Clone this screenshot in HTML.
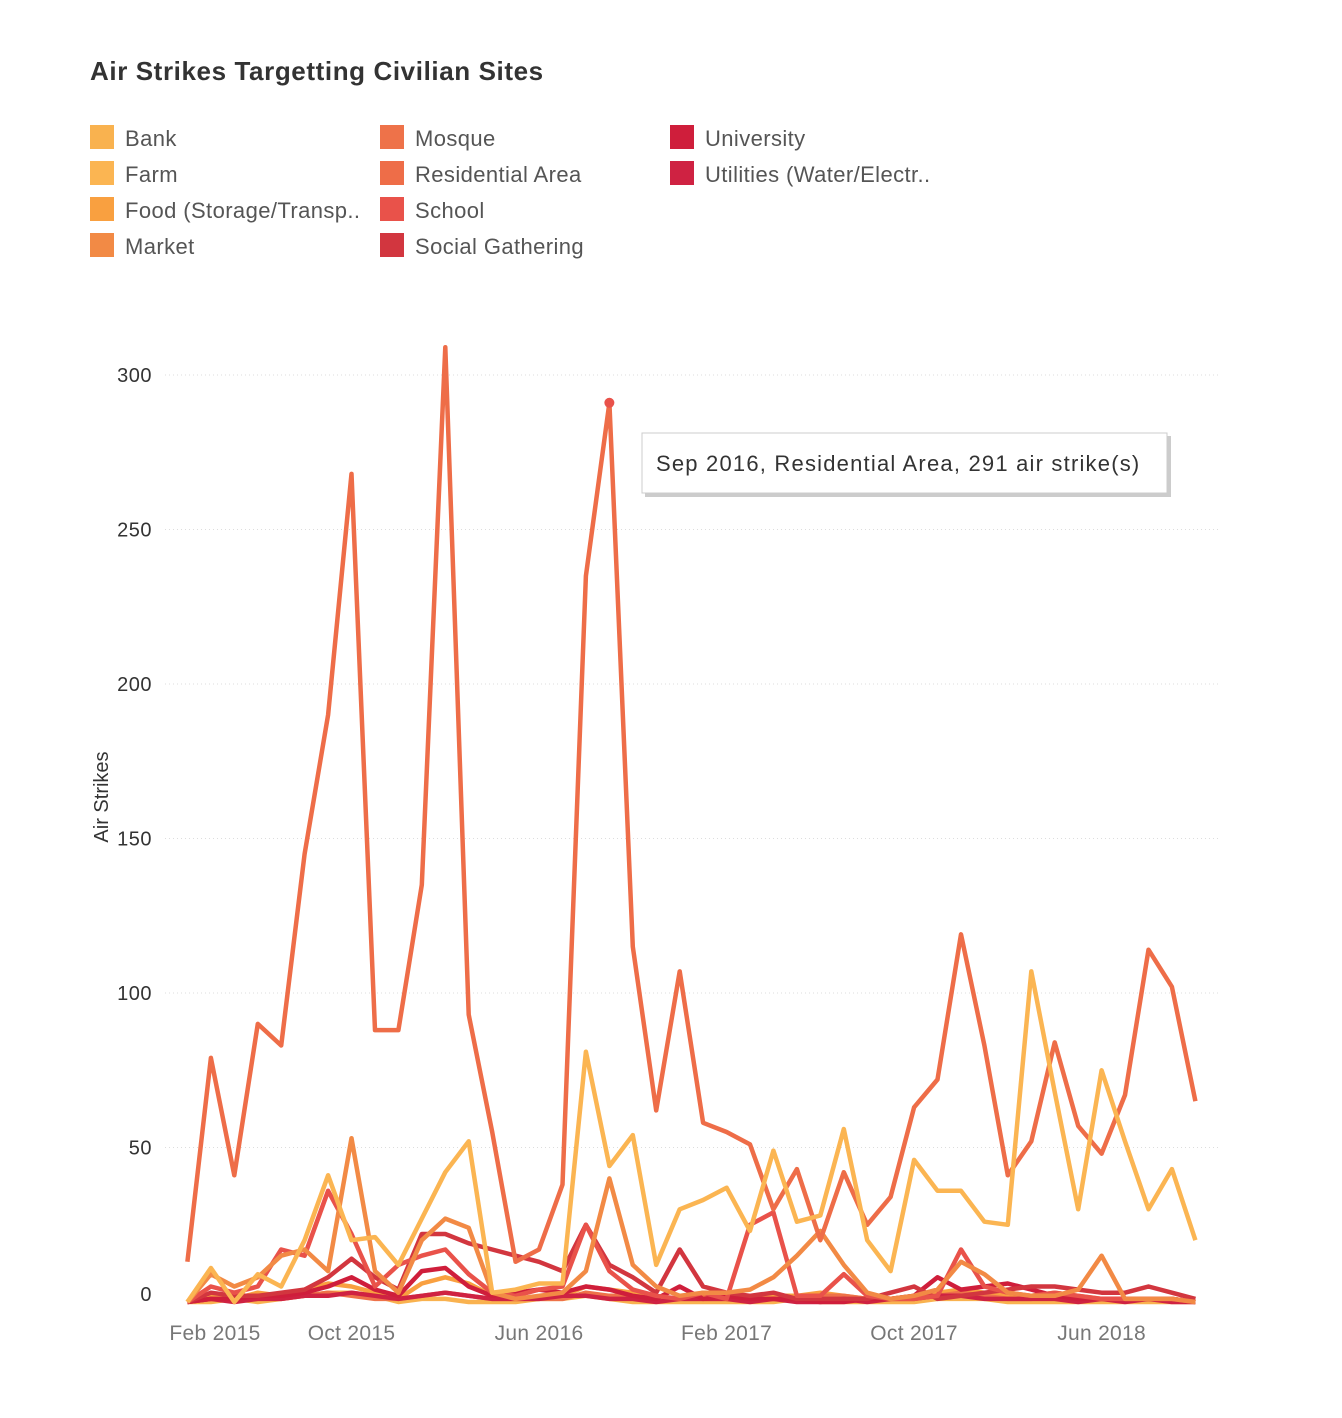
<!DOCTYPE html>
<html><head><meta charset="utf-8"><style>
body{margin:0;background:#fff;width:1342px;height:1418px;overflow:hidden;font-family:"Liberation Sans",sans-serif}
svg{position:absolute;left:0;top:0}
</style></head><body>
<svg width="1342" height="1418">
<text x="90" y="80" font-size="26" font-weight="bold" fill="#333" letter-spacing="0.6">Air Strikes Targetting Civilian Sites</text>
<g id="legend"></g>
<g id="grid"></g>
<g id="yticks"></g>
<g id="xticks"></g>
<text transform="translate(108,797) rotate(-90)" text-anchor="middle" font-size="20" fill="#333">Air Strikes</text>
<g id="lines"></g>
<g id="tip"></g>
</svg>
<script>
const categories=["Bank","Farm","Food (Storage/Transp..","Market","Mosque","Residential Area","School","Social Gathering","University","Utilities (Water/Electr.."];
const colors=["#f9b24f","#fbb552","#f9a040","#f28a45","#ee7249","#ee6d48","#e9524a","#d2363f","#cf1e3b","#cf2242"];
const startMonth=1;
const bank=[0,0,1,0,1,2,3,3,2,0,1,1,0,0,0,1,1,2,1,0,0,0,0,0,0,0,1,0,0,0,0,0,1,1,1,0,0,0,0,0,0,0,0,0];
const farm=[0,11,0,9,5,20,41,20,21,12,27,42,52,3,4,6,6,81,44,54,12,30,33,37,23,49,26,28,56,20,10,46,36,36,26,25,107,68,30,75,52,30,43,20];
const food=[0,2,1,3,2,4,6,5,3,1,6,8,6,2,1,1,2,5,4,3,1,1,2,2,1,2,2,3,2,1,1,2,3,4,3,2,2,3,2,1,1,1,1,0];
const market=[0,9,5,8,15,17,10,53,10,3,20,27,24,3,1,2,3,10,40,12,5,2,3,3,4,8,15,23,12,3,1,2,4,13,9,3,2,2,4,15,1,1,1,0];
const mosque=[0,1,1,2,1,2,3,2,1,1,2,3,2,1,1,1,1,3,2,2,1,1,1,1,1,1,1,2,2,1,1,2,2,3,2,1,1,2,1,1,1,1,1,0];
const residential=[13,79,41,90,83,145,190,268,88,88,135,309,93,55,13,17,38,235,291,115,62,107,58,55,51,30,43,20,42,25,34,63,72,119,83,41,52,84,57,48,67,114,102,65];
const school=[0,5,3,5,17,15,36,22,5,12,15,17,9,3,2,4,5,25,10,4,2,1,3,1,25,29,2,2,9,2,1,1,2,17,5,3,2,3,2,1,1,1,1,0];
const social=[0,3,2,2,3,4,8,14,8,4,22,22,19,17,15,13,10,25,12,8,3,17,5,3,2,3,1,1,1,1,3,5,1,2,3,4,5,5,4,3,3,5,3,1];
const university=[0,1,1,2,2,3,5,8,4,2,10,11,5,2,3,4,3,5,4,2,1,5,1,2,1,1,1,0,0,1,1,2,8,4,5,6,4,2,1,1,1,1,1,0];
const utilities=[0,1,0,1,1,2,2,3,2,1,2,3,2,1,1,1,2,2,1,1,0,1,1,1,0,1,0,0,1,0,1,1,2,2,1,1,1,1,0,1,0,1,0,0];
const yTicks=[0,50,100,150,200,250,300];
const xTickLabels=["Feb 2015","Oct 2015","Jun 2016","Feb 2017","Oct 2017","Jun 2018"];
const xTickMonths=[0,8,16,24,32,40];
const series=[bank,farm,food,market,mosque,residential,school,social,university,utilities];
const NS="http://www.w3.org/2000/svg";
const y=v=>1302-v*3.09;
const x=m=>164+m*23.44;
function mk(tag,attrs,parent){const e=document.createElementNS(NS,tag);for(const k in attrs)e.setAttribute(k,attrs[k]);parent.appendChild(e);return e;}
const lg=document.getElementById('legend');
categories.forEach((c,i)=>{const col=Math.floor(i/4),row=i%4;const lx=90+col*290,ly=125+row*36;
 const r=mk('rect',{x:lx,y:ly,width:24,height:24,fill:colors[i]},lg);
 
 
 const t=mk('text',{x:lx+35,y:ly+21,'font-size':22,'letter-spacing':0.4,fill:'#555'},lg);t.textContent=c;
 
 });
const gr=document.getElementById('grid'),yt=document.getElementById('yticks');
yTicks.forEach(v=>{if(v>0){const l=mk('line',{x1:165,x2:1220,y1:y(v),y2:y(v),stroke:'#ddd','stroke-dasharray':'1,3'},gr);}
 const t=mk('text',{x:152,y:(v===0?y(v)-8:y(v))+7,'text-anchor':'end','font-size':20,'letter-spacing':0.5,fill:'#333'},yt);t.textContent=v;
 });
const xt=document.getElementById('xticks');
xTickLabels.forEach((s,i)=>{const t=mk('text',{x:x(xTickMonths[i])+(i===0?51:0),y:1340,'text-anchor':'middle','font-size':21,'letter-spacing':0.3,fill:'#777'},xt);t.textContent=s;
 });
const ln=document.getElementById('lines');
const order=[0,2,4,9,8,7,6,3,5,1];
order.forEach(i=>{const d=series[i].map((v,k)=>(k?'L':'M')+x(k+startMonth).toFixed(1)+','+y(v).toFixed(1)).join('');
 const p=mk('path',{d:d,fill:'none',stroke:colors[i],'stroke-width':4.5,'stroke-linejoin':'round'},ln);
 
 });
const tp=document.getElementById('tip');
const hi=18;
const dot=mk('circle',{cx:x(hi+startMonth),cy:y(residential[hi]),r:5,fill:'#e9524a'},tp);

mk('rect',{x:645,y:436,width:526,height:61,fill:'#ccc'},tp);
const bx=mk('rect',{x:642,y:433,width:525,height:60,fill:'#fff',stroke:'#ccc'},tp);

const tt=mk('text',{x:656,y:471,'font-size':22,'letter-spacing':1.2,fill:'#333'},tp);tt.textContent='Sep 2016, Residential Area, 291 air strike(s)';

</script>
</body></html>
